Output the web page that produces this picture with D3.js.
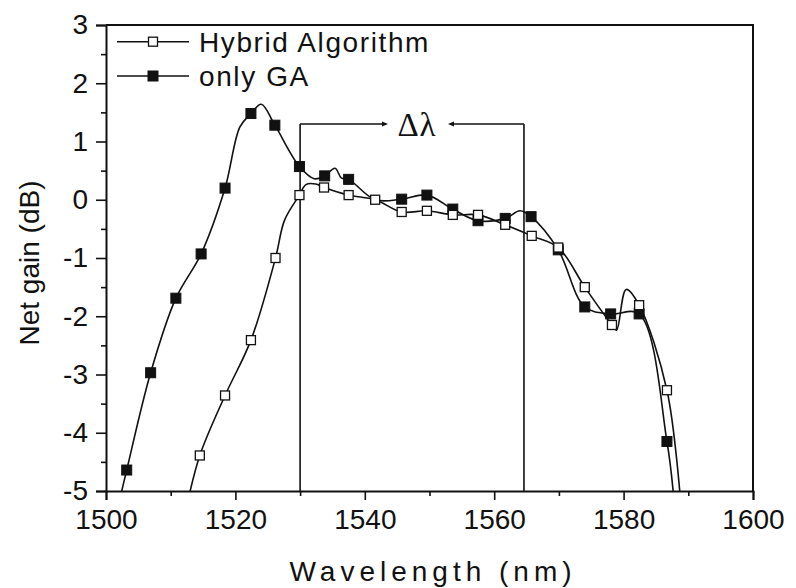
<!DOCTYPE html>
<html>
<head>
<meta charset="utf-8">
<script src="https://cdn.jsdelivr.net/npm/d3@7"></script>
<style>
  html, body { margin: 0; padding: 0; background: #fff; }
  svg { display: block; }
  text { font-family: "Liberation Sans", Arial, Helvetica, sans-serif; fill: #111; }
</style>
</head>
<body>
<svg id="chart" width="796" height="588"></svg>
<script>
// ---- data ----
const xTicks = [1500, 1520, 1540, 1560, 1580, 1600];
const yTicks = [-5, -4, -3, -2, -1, 0, 1, 2, 3];
const legendLabels = ["Hybrid Algorithm", "only GA"];
const xTitle = "Wavelength (nm)";
const yTitle = "Net gain (dB)";

// "only GA" (filled squares): marked points
const gaWl   = [1503.2, 1506.9, 1510.8, 1514.7, 1518.4, 1522.4, 1526.1, 1529.9, 1533.8, 1537.5, 1545.7, 1549.6, 1553.6, 1557.5, 1561.7, 1565.7, 1569.9, 1574.0, 1578.0, 1582.4, 1586.7];
const gaGain = [-4.64, -2.97, -1.69, -0.93, 0.20, 1.48, 1.28, 0.57, 0.41, 0.35, 0.01, 0.08, -0.16, -0.36, -0.32, -0.29, -0.86, -1.84, -1.96, -1.96, -4.15];
// additional unmarked trace points of "only GA"
const gaTraceWl   = [1501.8, 1520.7, 1524.0, 1532.2, 1535.4, 1536.4, 1541.6, 1564.0, 1587.9];
const gaTraceGain = [-5.3, 1.25, 1.64, 0.36, 0.54, 0.37, 0.00, -0.19, -5.3];

// "Hybrid Algorithm" (open squares): marked points
const hyWl   = [1514.5, 1518.4, 1522.4, 1526.2, 1529.9, 1533.7, 1537.5, 1541.6, 1545.7, 1549.6, 1553.6, 1557.5, 1561.7, 1565.8, 1569.9, 1574.0, 1578.2, 1582.4, 1586.7];
const hyGain = [-4.39, -3.36, -2.41, -1.00, 0.08, 0.21, 0.08, 0.00, -0.21, -0.19, -0.26, -0.26, -0.43, -0.62, -0.82, -1.50, -2.15, -1.81, -3.27];
// additional unmarked trace points of "Hybrid Algorithm"
const hyTraceWl   = [1512.4, 1527.6, 1530.9, 1532.4, 1578.9, 1580.4, 1588.9];
const hyTraceGain = [-5.3, -0.35, 0.26, 0.27, -2.24, -1.54, -5.3];

// Δλ bracket (wavelength span and height, in data units)
const bracketWl = [1530, 1564.6];
const bracketGain = 1.30;
const bracketLabel = "Δλ";

// ---- layout ----
const svg = d3.select("#chart");
const margin = {left: 106, right: 753, top: 25, bottom: 491};
const x = d3.scaleLinear().domain([1500, 1600]).range([margin.left, margin.right]);
const y = d3.scaleLinear().domain([-5, 3]).range([margin.bottom, margin.top]);
const ink = "#111";
const fs = 28;

svg.append("defs").append("clipPath").attr("id", "plotclip")
  .append("rect").attr("x", margin.left).attr("y", margin.top)
  .attr("width", margin.right - margin.left).attr("height", margin.bottom - margin.top);

// frame (top and right)
svg.append("path")
  .attr("d", `M${margin.left},${margin.top}H${margin.right}V${margin.bottom}`)
  .attr("fill", "none").attr("stroke", ink).attr("stroke-width", 2);

const fmt = d => String(d);

// x axis
svg.append("g").attr("transform", `translate(0,${margin.bottom})`)
  .call(d3.axisBottom(x).tickValues(xTicks).tickFormat(fmt).tickSize(9).tickPadding(9));
svg.append("g").attr("transform", `translate(0,${margin.bottom})`)
  .call(d3.axisBottom(x).tickValues(d3.range(1510, 1600, 20)).tickFormat("").tickSize(5))
  .select(".domain").remove();
// y axis
svg.append("g").attr("transform", `translate(${margin.left},0)`)
  .call(d3.axisLeft(y).tickValues(yTicks).tickFormat(fmt).tickSize(10).tickPadding(8));
svg.append("g").attr("transform", `translate(${margin.left},0)`)
  .call(d3.axisLeft(y).tickValues(d3.range(-4.5, 3, 1)).tickFormat("").tickSize(5))
  .select(".domain").remove();

svg.selectAll(".domain").attr("stroke", ink).attr("stroke-width", 2);
svg.selectAll(".tick line").attr("stroke", ink).attr("stroke-width", 1.6);
svg.selectAll(".tick text").attr("font-size", fs).attr("fill", ink)
  .style("font-family", '"Liberation Sans", Arial, sans-serif');

// titles
svg.append("text").attr("x", 433).attr("y", 581).attr("text-anchor", "middle")
  .attr("font-size", fs).attr("letter-spacing", 5).text(xTitle);
svg.append("text").attr("transform", "translate(39,263) rotate(-90)")
  .attr("text-anchor", "middle").attr("font-size", fs).text(yTitle);

// bracket
const bx0 = x(bracketWl[0]), bx1 = x(bracketWl[1]), by = y(bracketGain);
const bg = svg.append("g").attr("stroke", ink).attr("stroke-width", 1.6).attr("fill", "none");
bg.append("line").attr("x1", bx0).attr("x2", bx0).attr("y1", by).attr("y2", margin.bottom);
bg.append("line").attr("x1", bx1).attr("x2", bx1).attr("y1", by).attr("y2", margin.bottom);
bg.append("line").attr("x1", bx0).attr("x2", 386).attr("y1", by).attr("y2", by);
bg.append("line").attr("x1", 450).attr("x2", bx1).attr("y1", by).attr("y2", by);
svg.append("path").attr("d", `M388,${by}l-6,-2.5v5z`).attr("fill", ink);
svg.append("path").attr("d", `M448,${by}l6,-2.5v5z`).attr("fill", ink);
svg.append("text").attr("x", 417).attr("y", by + 12).attr("text-anchor", "middle")
  .attr("font-size", 33).attr("letter-spacing", 1)
  .style("font-family", '"Liberation Serif", "Times New Roman", serif').text(bracketLabel);

// traces
function trace(wl, g, xw, xg) {
  const pts = wl.map((w, i) => [w, g[i]]).concat(xw.map((w, i) => [w, xg[i]]));
  pts.sort((a, b) => a[0] - b[0]);
  return pts;
}
const line = d3.line().x(d => x(d[0])).y(d => y(d[1])).curve(d3.curveCatmullRom.alpha(0.5));
const plot = svg.append("g").attr("clip-path", "url(#plotclip)");
plot.append("path").datum(trace(gaWl, gaGain, gaTraceWl, gaTraceGain))
  .attr("d", line).attr("fill", "none").attr("stroke", ink).attr("stroke-width", 1.6);
plot.append("path").datum(trace(hyWl, hyGain, hyTraceWl, hyTraceGain))
  .attr("d", line).attr("fill", "none").attr("stroke", ink).attr("stroke-width", 1.6);

// markers
const ms = 10;
svg.append("g").selectAll("rect").data(gaWl.map((w, i) => [w, gaGain[i]])).join("rect")
  .attr("x", d => x(d[0]) - ms / 2).attr("y", d => y(d[1]) - ms / 2)
  .attr("width", ms).attr("height", ms).attr("fill", ink).attr("stroke", ink).attr("stroke-width", 1);
svg.append("g").selectAll("rect").data(hyWl.map((w, i) => [w, hyGain[i]])).join("rect")
  .attr("x", d => x(d[0]) - ms / 2 + 0.5).attr("y", d => y(d[1]) - ms / 2 + 0.5)
  .attr("width", ms - 1).attr("height", ms - 1).attr("fill", "#fff").attr("stroke", ink).attr("stroke-width", 1.3);

// legend
const leg = svg.append("g");
const legY = [41.7, 76];
legendLabels.forEach((lab, i) => {
  const ly = legY[i];
  leg.append("line").attr("x1", 117).attr("x2", 189).attr("y1", ly).attr("y2", ly)
    .attr("stroke", ink).attr("stroke-width", 1.6);
  leg.append("rect").attr("x", 153 - ms / 2 + (i === 0 ? 0.5 : 0)).attr("y", ly - ms / 2 + (i === 0 ? 0.5 : 0))
    .attr("width", i === 0 ? ms - 1 : ms).attr("height", i === 0 ? ms - 1 : ms)
    .attr("fill", i === 0 ? "#fff" : ink).attr("stroke", ink).attr("stroke-width", i === 0 ? 1.3 : 1);
  leg.append("text").attr("x", 199).attr("y", ly).attr("dy", "0.35em")
    .attr("font-size", fs).attr("letter-spacing", 1.6).text(lab);
});
</script>
</body>
</html>
